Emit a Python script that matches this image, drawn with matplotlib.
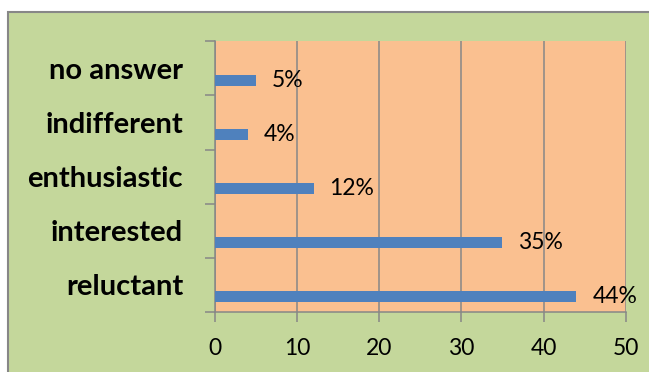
import numpy as np
import matplotlib as mpl
mpl.use('Agg')
import matplotlib.pyplot as plt
from matplotlib.patches import Rectangle

mpl.rcParams['font.family'] = ['Lato', 'DejaVu Sans']

# survey answers, bottom to top
categories = ['reluctant', 'interested', 'enthusiastic', 'indifferent', 'no answer']
values = [44, 35, 12, 4, 5]
value_labels = ['44%', '35%', '12%', '4%', '5%']
xticks = [0, 10, 20, 30, 40, 50]

green = '#c4d79b'
orange = '#fac090'
blue = '#4f81bd'
grey = '#878787'

fig = plt.figure(figsize=(6.49, 3.72), dpi=100)
fig.patch.set_facecolor('white')
# chart area box with border on top/left
fig.patches.append(Rectangle((7.5/649, -0.05), 1.0, 1.05 - 11.5/372,
                             transform=fig.transFigure, facecolor=green,
                             edgecolor=grey, lw=1.5, zorder=-10))

ax = fig.add_axes([215/649, 1 - 312/372, 410.7/649, 270.7/372])
ax.set_facecolor(orange)

ypos = np.arange(len(categories))
ax.barh(ypos - 0.22, values, height=0.2, color=blue, zorder=3)
for y, v, lab in zip(ypos, values, value_labels):
    ax.annotate(lab, (v, y - 0.22), xytext=(11.5, 0), textcoords='offset points',
                va='center', ha='left', fontsize=16.5, color='black', zorder=4)

ax.set_xlim(0, 50)
ax.set_ylim(-0.5, len(categories) - 0.5)
ax.set_xticks(xticks)
ax.xaxis.grid(True, color=grey, lw=1.1, zorder=1)
ax.set_axisbelow(True)

ax.set_yticks(ypos)
ax.set_yticklabels(categories, fontsize=21, fontweight='bold')
ax.set_yticks(np.arange(-0.5, len(categories)), minor=True)
ax.tick_params(axis='y', which='major', length=0, pad=23)
ax.tick_params(axis='y', which='minor', length=7, width=1.1, color=grey, direction='out')
ax.tick_params(axis='x', length=7, width=1.1, color=grey, direction='out',
               labelsize=16.5, pad=12)

for s in ['top', 'right']:
    ax.spines[s].set_visible(False)
for s in ['left', 'bottom']:
    ax.spines[s].set_color(grey)
    ax.spines[s].set_linewidth(1.1)

fig.savefig('out.png', dpi=100, facecolor=fig.get_facecolor())
